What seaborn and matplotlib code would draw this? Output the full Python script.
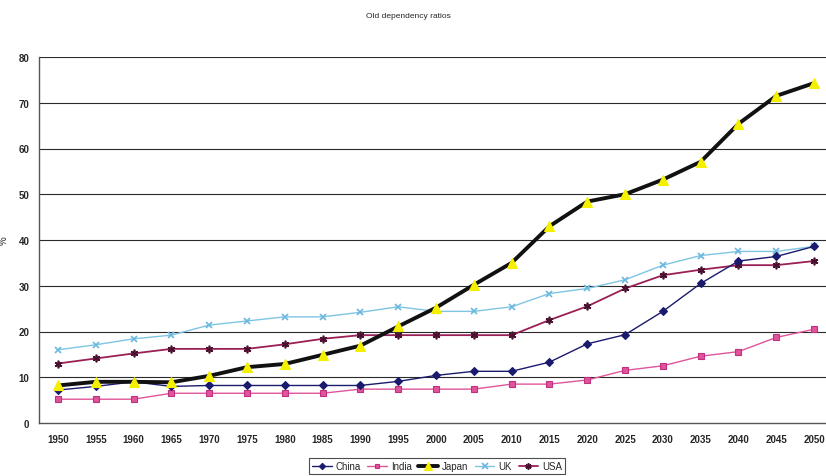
import matplotlib
matplotlib.use("Agg")
import matplotlib.pyplot as plt
import seaborn as sns
import pandas as pd
from matplotlib.lines import Line2D
from matplotlib.ticker import FixedLocator

years = [1950, 1955, 1960, 1965, 1970, 1975, 1980, 1985, 1990, 1995, 2000,
         2005, 2010, 2015, 2020, 2025, 2030, 2035, 2040, 2045, 2050]

china = [7.2, 8.0, 9.0, 8.0, 8.2, 8.2, 8.2, 8.2, 8.2, 9.1, 10.4,
         11.3, 11.3, 13.3, 17.3, 19.3, 24.4, 30.5, 35.4, 36.4, 38.6]
india = [5.2, 5.2, 5.2, 6.5, 6.5, 6.5, 6.5, 6.5, 7.4, 7.4, 7.4,
         7.4, 8.5, 8.5, 9.4, 11.5, 12.5, 14.6, 15.6, 18.7, 20.5]
japan = [8.2, 9.0, 9.0, 8.9, 10.3, 12.2, 12.9, 14.9, 16.9, 21.1, 25.2,
         30.2, 35.0, 43.0, 48.4, 50.0, 53.2, 57.1, 65.4, 71.5, 74.3]
uk = [16.0, 17.1, 18.4, 19.2, 21.4, 22.3, 23.2, 23.2, 24.2, 25.4, 24.4,
      24.4, 25.4, 28.3, 29.4, 31.3, 34.5, 36.6, 37.5, 37.5, 38.6]
usa = [13.0, 14.1, 15.2, 16.2, 16.2, 16.2, 17.2, 18.4, 19.2, 19.2, 19.2,
       19.2, 19.2, 22.5, 25.5, 29.4, 32.3, 33.5, 34.5, 34.5, 35.4]

countries = ["China", "India", "Japan", "UK", "USA"]
y_ticks = [0, 10, 20, 30, 40, 50, 60, 70, 80]

sns.set_theme(style="white")
plt.rcParams["font.family"] = ["Liberation Sans Narrow", "Liberation Sans", "DejaVu Sans"]

# long-form table: one row per country and year
frames = []
for name, vals in zip(countries, [china, india, japan, uk, usa]):
    frames.append(pd.DataFrame({"pos": range(len(years)), "year": years,
                                "value": vals, "country": name}))
df = pd.concat(frames, ignore_index=True)

styles = {
    "China": dict(color="#1a1a6e", lw=1.0, marker="D", ms=4.0, mfc="#1a1a6e", mec="#1a1a6e"),
    "India": dict(color="#e0559a", lw=1.0, marker="s", ms=4.0, mfc="#e0559a", mec="#c03080"),
    "Japan": dict(color="#111111", lw=2.8, marker="^", ms=7.0, mfc="#f5f000", mec="#f5f000"),
    "UK": dict(color="#7fc4e4", lw=1.0, marker="x", ms=5.0, mfc="#7fc4e4", mec="#6ab8de", mew=1.2),
    "USA": dict(color="#9a1f55", lw=1.3, marker=(6, 2, 0), ms=5.5, mfc="#4a1030", mec="#4a1030", mew=1.2),
}
order = ["UK", "USA", "India", "China", "Japan"]

fig = plt.figure(figsize=(8.26, 4.77), dpi=100)
ax = fig.add_axes([39 / 826, 1 - 424 / 477, (833 - 39) / 826, (424 - 58) / 477])

for name in order:
    s = styles[name]
    sub = df[df["country"] == name]
    sns.lineplot(data=sub, x="pos", y="value", ax=ax, color=s["color"],
                 linewidth=s["lw"], marker=s["marker"], markersize=s["ms"],
                 markerfacecolor=s["mfc"], markeredgecolor=s["mec"],
                 markeredgewidth=s.get("mew", 0.8), legend=False, zorder=3)

ax.set_xlim(-0.5, len(years) - 0.5)
ax.set_ylim(0, 80)
ax.set_yticks(y_ticks)
ax.set_yticklabels([str(v) for v in y_ticks], fontsize=7, fontweight="bold")
ax.set_xticks(range(len(years)))
ax.set_xticklabels([str(y) for y in years], fontsize=7, fontweight="bold")
ax.xaxis.set_minor_locator(FixedLocator([i + 0.5 for i in range(len(years) - 1)]))
ax.tick_params(axis="x", which="major", length=0, pad=8)
ax.tick_params(axis="x", which="minor", length=3, direction="in", width=0.8, color="#333333")
ax.tick_params(axis="y", which="major", length=3, direction="out", width=0.8, color="#333333", pad=4)
ax.set_xlabel("")
ax.set_ylabel("%", fontsize=7, rotation=90)
ax.yaxis.set_label_coords((9 - 39) / 794, 0.5)

for v in y_ticks[1:]:
    ax.axhline(v, color="#2a2a2a", lw=0.8, zorder=1)

for side in ["top", "right"]:
    ax.spines[side].set_visible(False)
for side in ["left", "bottom"]:
    ax.spines[side].set_color("#555555")
    ax.spines[side].set_linewidth(1.0)

fig.text(408 / 826, 1 - 17 / 477, "Old dependency ratios", ha="center", va="center",
         fontsize=6)

handles = []
for name in countries:
    s = styles[name]
    handles.append(Line2D([0], [0], color=s["color"], lw=s["lw"], marker=s["marker"],
                          markersize=s["ms"] * 0.8, markerfacecolor=s["mfc"],
                          markeredgecolor=s["mec"], markeredgewidth=s.get("mew", 0.8)))
leg = fig.legend(handles, countries, loc="center", bbox_to_anchor=(437 / 826, 1 - 467 / 477),
                 ncol=5, fontsize=7, frameon=True, fancybox=False, handlelength=2.0,
                 handletextpad=0.4, columnspacing=0.7, borderpad=0.3)
leg.get_frame().set_edgecolor("#222222")
leg.get_frame().set_linewidth(0.8)

fig.savefig("out.png", dpi=100)
